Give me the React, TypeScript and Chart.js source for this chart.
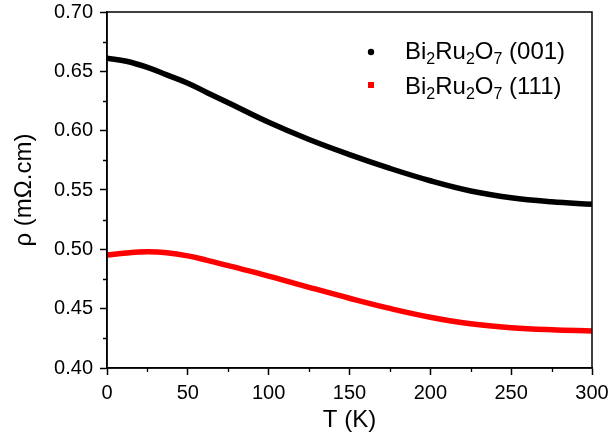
import React, { useEffect, useRef } from 'react';
import { Chart, registerables } from 'chart.js';

Chart.register(...registerables);

// ---- data ----
const T_001 = [0, 12, 25, 37, 50, 62, 75, 100, 125, 150, 175, 200, 225, 250, 275, 300];
const RHO_001 = [0.661, 0.6585, 0.6533, 0.6470, 0.6400, 0.6320, 0.6235, 0.6070, 0.5925, 0.5798, 0.5682, 0.5578, 0.5492, 0.5435, 0.5401, 0.5380];

const T_111 = [0, 12, 25, 37, 50, 62, 75, 100, 125, 150, 175, 200, 225, 250, 275, 300];
const RHO_111 = [0.4952, 0.4970, 0.4980, 0.4972, 0.4945, 0.4907, 0.4862, 0.4775, 0.4680, 0.4588, 0.4502, 0.4428, 0.4373, 0.4340, 0.4322, 0.4312];

const X_TICKS = [0, 50, 100, 150, 200, 250, 300];
const Y_TICKS = [0.40, 0.45, 0.50, 0.55, 0.60, 0.65, 0.70];

const SERIES_NAMES = ['Bi₂Ru₂O₇ (001)', 'Bi₂Ru₂O₇ (111)'];
const FORMULA_PARTS: [string, boolean][] = [['Bi', false], ['2', true], ['Ru', false], ['2', true], ['O', false], ['7', true]];
const FACETS = [' (001)', ' (111)'];
const SERIES_COLORS = ['#000000', '#ff0000'];
const MARKERS = ['circle', 'square'];

const X_TITLE = 'T (K)';
const Y_TITLE = 'ρ (mΩ.cm)';

const FONT = '"Liberation Sans", Arial, Helvetica, sans-serif';

const framePlugin = {
  id: 'frameAndMinor',
  afterDraw(chart: any) {
    const { ctx, chartArea } = chart;
    const xs = chart.scales.x;
    const ys = chart.scales.y;
    ctx.save();
    ctx.strokeStyle = '#000';
    ctx.lineWidth = 1.5;
    ctx.strokeRect(chartArea.left, chartArea.top, chartArea.right - chartArea.left, chartArea.bottom - chartArea.top);
    ctx.lineWidth = 1.3;
    ctx.beginPath();
    for (let i = 0; i < X_TICKS.length - 1; i++) {
      const mid = (X_TICKS[i] + X_TICKS[i + 1]) / 2;
      const px = Math.round(xs.getPixelForValue(mid)) + 0.5;
      ctx.moveTo(px, chartArea.bottom);
      ctx.lineTo(px, chartArea.bottom + 4);
    }
    for (let i = 0; i < Y_TICKS.length - 1; i++) {
      const mid = (Y_TICKS[i] + Y_TICKS[i + 1]) / 2;
      const py = Math.round(ys.getPixelForValue(mid)) + 0.5;
      ctx.moveTo(chartArea.left, py);
      ctx.lineTo(chartArea.left - 4, py);
    }
    ctx.stroke();
    ctx.restore();
  },
};

const legendPlugin = {
  id: 'formulaLegend',
  afterDraw(chart: any) {
    const { ctx, chartArea } = chart;
    const size = 24;
    const subSize = 16;
    const markerX = chartArea.left + 264;
    const textX = chartArea.left + 298;
    const rows = [chartArea.top + 38, chartArea.top + 73];
    ctx.save();
    chart.data.datasets.forEach((ds: any, i: number) => {
      const y = rows[i];
      ctx.fillStyle = SERIES_COLORS[i];
      if (MARKERS[i] === 'circle') {
        ctx.beginPath();
        ctx.arc(markerX, y + 2, 3.2, 0, Math.PI * 2);
        ctx.fill();
      } else {
        ctx.fillRect(markerX - 3, y - 3, 6, 6);
      }
      ctx.fillStyle = '#000';
      ctx.textBaseline = 'alphabetic';
      ctx.textAlign = 'left';
      let x = textX;
      const base = y + size * 0.358;
      const parts: [string, boolean][] = [...FORMULA_PARTS, [FACETS[i], false]];
      parts.forEach(([txt, sub]) => {
        ctx.font = `${sub ? subSize : size}px ${FONT}`;
        ctx.fillText(txt, x, sub ? base + 5 : base);
        x += ctx.measureText(txt).width;
      });
    });
    ctx.restore();
  },
};

export default function App() {
  const ref = useRef<HTMLCanvasElement | null>(null);
  useEffect(() => {
    if (!ref.current) return;
    const chart = new Chart(ref.current, {
      type: 'line',
      data: {
        datasets: [
          {
            label: SERIES_NAMES[0],
            data: T_001.map((t, i) => ({ x: t, y: RHO_001[i] })),
            borderColor: SERIES_COLORS[0],
            backgroundColor: SERIES_COLORS[0],
            borderWidth: 5.5,
            pointRadius: 0,
            tension: 0.4,
            fill: false,
          },
          {
            label: SERIES_NAMES[1],
            data: T_111.map((t, i) => ({ x: t, y: RHO_111[i] })),
            borderColor: SERIES_COLORS[1],
            backgroundColor: SERIES_COLORS[1],
            borderWidth: 5.5,
            pointRadius: 0,
            tension: 0.4,
            fill: false,
          },
        ],
      },
      options: {
        responsive: false,
        animation: false,
        layout: { padding: { top: 12, right: 20, left: 0, bottom: 0 } },
        plugins: { legend: { display: false }, tooltip: { enabled: false } },
        scales: {
          x: {
            type: 'linear',
            min: 0,
            max: 300,
            afterBuildTicks: (s: any) => { s.ticks = X_TICKS.map((v) => ({ value: v })); },
            afterFit: (s: any) => { s.height = 76; s.paddingLeft = 0; s.paddingRight = 0; },
            border: { display: true, color: '#000', width: 1.5 },
            grid: { drawOnChartArea: false, drawTicks: true, tickLength: 7, tickColor: '#000', tickWidth: 1.5 },
            ticks: { color: '#000', font: { size: 20, family: FONT }, padding: 6, maxRotation: 0, autoSkip: false },
            title: { display: true, text: X_TITLE, color: '#000', font: { size: 24, family: FONT }, padding: { top: 0, bottom: 9 } },
          },
          y: {
            type: 'linear',
            min: 0.4,
            max: 0.7,
            afterBuildTicks: (s: any) => { s.ticks = Y_TICKS.map((v) => ({ value: v })); },
            afterFit: (s: any) => { s.width = 107; s.paddingTop = 0; s.paddingBottom = 0; },
            border: { display: true, color: '#000', width: 1.5 },
            grid: { drawOnChartArea: false, drawTicks: true, tickLength: 7, tickColor: '#000', tickWidth: 1.5 },
            ticks: { color: '#000', font: { size: 20, family: FONT }, padding: 7, autoSkip: false, callback: (v: any) => Number(v).toFixed(2) },
            title: { display: true, text: Y_TITLE, color: '#000', font: { size: 24, family: FONT }, padding: { top: 10, bottom: 0 } },
          },
        },
      },
      plugins: [framePlugin, legendPlugin],
    });
    return () => chart.destroy();
  }, []);
  return (
    <div style={{ position: 'fixed', left: 0, top: 0, width: 612, height: 444, background: '#fff' }}>
      <canvas ref={ref} width={612} height={444} style={{ display: 'block' }} />
    </div>
  );
}
